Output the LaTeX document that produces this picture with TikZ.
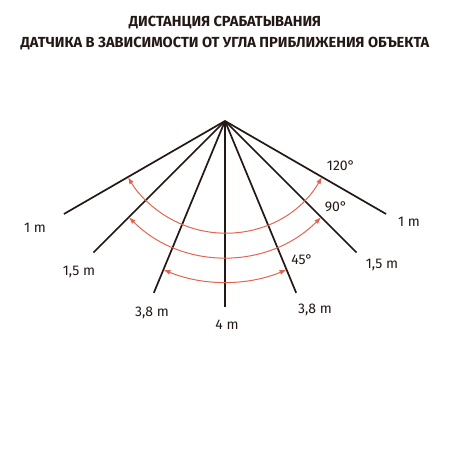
\documentclass[tikz,border=0pt]{standalone}
\usepackage{fontspec}
\setmainfont{Fira Sans}
\usetikzlibrary{arrows.meta}
\definecolor{raydark}{HTML}{231815}
\definecolor{arcred}{HTML}{E2654F}

\begin{document}
\begin{tikzpicture}[x=1pt, y=-1pt, every node/.style={font=\fontsize{14}{16}\selectfont, text=raydark}]
                    \useasboundingbox (0,0) rectangle (450,450);
                    \tikzset{ray/.style={draw=raydark, line width=1.7pt},
                             sweep/.style={draw=arcred, line width=1pt, {Latex[length=7pt,width=5pt]}-{Latex[length=7pt,width=5pt]}}}

                    \node[font=\fontsize{14.6}{16}\selectfont\bfseries] (title1) at (225, 23) {ДИСТАНЦИЯ СРАБАТЫВАНИЯ};
                    \node[font=\fontsize{14.6}{16}\selectfont\bfseries] (title2) at (225, 44) {ДАТЧИКА В ЗАВИСИМОСТИ ОТ УГЛА ПРИБЛИЖЕНИЯ ОБЪЕКТА};

                    \coordinate (apex) at (225, 121);
                    \foreach \ang/\nm in {30/r1, 45/r15, 67.5/r38, 90/c4, 112.5/l38, 135/l15, 150/l1}
                        \coordinate (\nm) at ([shift={(\ang:186)}]apex);
                    \foreach \nm in {r1, r15, r38, c4, l38, l15, l1}
                        \draw[ray] (apex) -- (\nm);

                    % angle sweeps
                    \draw[sweep] ([shift={(30:112)}]apex) arc[start angle=30, end angle=150, radius=112];
                    \draw[sweep] ([shift={(45:136)}]apex) arc[start angle=45, end angle=135, radius=136];
                    \draw[sweep] ([shift={(67.5:161)}]apex) arc[start angle=67.5, end angle=112.5, radius=161];

                    \node (dl1) at (35, 228) {1 m};
                    \node (dr1) at (409, 222) {1 m};
                    \node (dl15) at (79, 272) {1,5 m};
                    \node (dr15) at (382, 265) {1,5 m};
                    \node (dl38) at (152, 313) {3,8 m};
                    \node (dr38) at (315, 310) {3,8 m};
                    \node (dc4) at (227, 325) {4 m};
                    \node (a120) at (341, 166) {120°};
                    \node (a90) at (336, 207) {90°};
                    \node (a45) at (302, 260) {45°};
\end{tikzpicture}
\end{document}
